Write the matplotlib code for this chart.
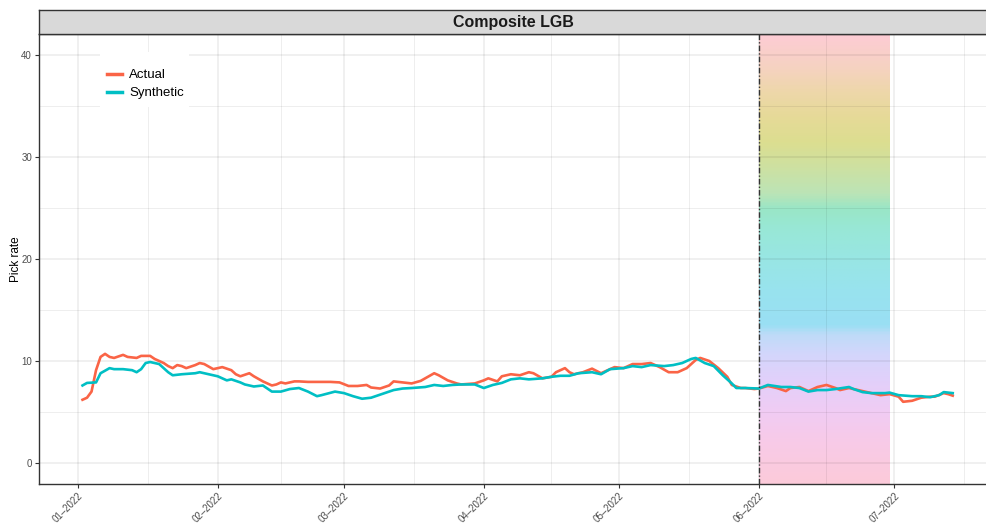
import numpy as np
import pandas as pd
import matplotlib
matplotlib.use("Agg")
import matplotlib.pyplot as plt
import matplotlib.dates as mdates
from matplotlib.colors import LinearSegmentedColormap
from matplotlib.patches import Rectangle
from matplotlib.ticker import FixedLocator

plt.rcParams['font.family'] = ['Liberation Sans', 'DejaVu Sans']

# --- data ---
actual_dates = [
    "2022-01-02", "2022-01-03", "2022-01-04", "2022-01-05", "2022-01-06", "2022-01-07",
    "2022-01-08", "2022-01-09", "2022-01-11", "2022-01-12", "2022-01-14", "2022-01-15",
    "2022-01-17", "2022-01-18", "2022-01-20", "2022-01-21", "2022-01-22", "2022-01-23",
    "2022-01-24", "2022-01-25", "2022-01-27", "2022-01-28", "2022-01-29", "2022-01-31",
    "2022-02-01", "2022-02-02", "2022-02-04", "2022-02-05", "2022-02-06", "2022-02-08",
    "2022-02-09", "2022-02-11", "2022-02-13", "2022-02-14", "2022-02-15", "2022-02-16",
    "2022-02-18", "2022-02-19", "2022-02-21", "2022-02-24", "2022-02-26", "2022-02-28",
    "2022-03-02", "2022-03-04", "2022-03-06", "2022-03-07", "2022-03-09", "2022-03-11",
    "2022-03-12", "2022-03-14", "2022-03-16", "2022-03-18", "2022-03-21", "2022-03-22",
    "2022-03-24", "2022-03-26", "2022-03-27", "2022-03-30", "2022-04-01", "2022-04-02",
    "2022-04-04", "2022-04-05", "2022-04-07", "2022-04-09", "2022-04-11", "2022-04-12",
    "2022-04-14", "2022-04-16", "2022-04-17", "2022-04-19", "2022-04-20", "2022-04-21",
    "2022-04-23", "2022-04-25", "2022-04-27", "2022-04-30", "2022-05-02", "2022-05-04",
    "2022-05-06", "2022-05-08", "2022-05-10", "2022-05-12", "2022-05-14", "2022-05-16",
    "2022-05-18", "2022-05-19", "2022-05-21", "2022-05-23", "2022-05-25", "2022-05-26",
    "2022-05-28", "2022-05-29", "2022-05-31", "2022-06-01", "2022-06-03", "2022-06-05",
    "2022-06-07", "2022-06-08", "2022-06-10", "2022-06-12", "2022-06-14", "2022-06-16",
    "2022-06-18", "2022-06-19", "2022-06-21", "2022-06-23", "2022-06-25", "2022-06-26",
    "2022-06-28", "2022-06-30", "2022-07-02", "2022-07-03", "2022-07-05", "2022-07-07",
    "2022-07-09", "2022-07-10", "2022-07-12", "2022-07-13", "2022-07-14",
]
actual_vals = [
    6.2, 6.4, 7.0, 9.1, 10.4, 10.7,
    10.4, 10.3, 10.6, 10.4, 10.3, 10.5,
    10.5, 10.2, 9.8, 9.5, 9.3, 9.6,
    9.5, 9.3, 9.6, 9.8, 9.7, 9.2,
    9.3, 9.4, 9.1, 8.7, 8.5, 8.8,
    8.5, 8.0, 7.6, 7.7, 7.9, 7.8,
    8.0, 8.0, 7.95, 7.95, 7.95, 7.9,
    7.55, 7.55, 7.65, 7.4, 7.3, 7.6,
    8.0, 7.9, 7.8, 8.05, 8.8, 8.6,
    8.1, 7.8, 7.7, 7.8, 8.1, 8.3,
    8.0, 8.5, 8.7, 8.6, 8.9, 8.8,
    8.3, 8.45, 8.9, 9.3, 8.9, 8.7,
    8.9, 9.25, 8.8, 9.4, 9.3, 9.7,
    9.7, 9.8, 9.4, 8.9, 8.9, 9.3,
    10.1, 10.3, 10.0, 9.3, 8.45, 7.65,
    7.35, 7.35, 7.25, 7.3, 7.55, 7.35,
    7.05, 7.35, 7.45, 7.05, 7.45, 7.65,
    7.35, 7.15, 7.35, 7.15, 6.95, 6.85,
    6.65, 6.75, 6.5, 6.0, 6.1, 6.4,
    6.5, 6.5, 6.85, 6.75, 6.6,
]

synthetic_dates = [
    "2022-01-02", "2022-01-03", "2022-01-05", "2022-01-06", "2022-01-08", "2022-01-09",
    "2022-01-11", "2022-01-13", "2022-01-14", "2022-01-15", "2022-01-16", "2022-01-17",
    "2022-01-19", "2022-01-21", "2022-01-22", "2022-01-24", "2022-01-27", "2022-01-28",
    "2022-01-30", "2022-02-01", "2022-02-03", "2022-02-04", "2022-02-06", "2022-02-07",
    "2022-02-09", "2022-02-11", "2022-02-13", "2022-02-15", "2022-02-17", "2022-02-19",
    "2022-02-21", "2022-02-23", "2022-02-24", "2022-02-27", "2022-03-01", "2022-03-03",
    "2022-03-05", "2022-03-07", "2022-03-10", "2022-03-12", "2022-03-14", "2022-03-16",
    "2022-03-19", "2022-03-21", "2022-03-23", "2022-03-25", "2022-03-27", "2022-03-30",
    "2022-04-01", "2022-04-03", "2022-04-05", "2022-04-07", "2022-04-09", "2022-04-11",
    "2022-04-14", "2022-04-16", "2022-04-18", "2022-04-20", "2022-04-22", "2022-04-25",
    "2022-04-27", "2022-04-29", "2022-05-02", "2022-05-04", "2022-05-06", "2022-05-08",
    "2022-05-11", "2022-05-13", "2022-05-15", "2022-05-17", "2022-05-18", "2022-05-20",
    "2022-05-22", "2022-05-24", "2022-05-26", "2022-05-27", "2022-05-29", "2022-06-01",
    "2022-06-03", "2022-06-06", "2022-06-08", "2022-06-10", "2022-06-12", "2022-06-14",
    "2022-06-16", "2022-06-18", "2022-06-21", "2022-06-22", "2022-06-24", "2022-06-26",
    "2022-06-29", "2022-06-30", "2022-07-02", "2022-07-05", "2022-07-07", "2022-07-09",
    "2022-07-11", "2022-07-12", "2022-07-14",
]
synthetic_vals = [
    7.6, 7.85, 7.9, 8.8, 9.3, 9.2,
    9.2, 9.1, 8.9, 9.2, 9.8, 9.9,
    9.7, 8.9, 8.6, 8.7, 8.8, 8.9,
    8.7, 8.5, 8.1, 8.2, 7.9, 7.7,
    7.5, 7.6, 7.0, 7.0, 7.25, 7.35,
    7.0, 6.55, 6.65, 7.0, 6.85, 6.55,
    6.3, 6.4, 6.85, 7.15, 7.3, 7.35,
    7.45, 7.65, 7.55, 7.65, 7.7, 7.7,
    7.35, 7.65, 7.85, 8.2, 8.3, 8.2,
    8.3, 8.45, 8.55, 8.55, 8.8, 8.9,
    8.7, 9.2, 9.3, 9.5, 9.4, 9.6,
    9.5, 9.6, 9.8, 10.2, 10.3, 9.8,
    9.5, 8.6, 7.8, 7.35, 7.35, 7.3,
    7.65, 7.45, 7.45, 7.35, 7.0, 7.15,
    7.15, 7.25, 7.45, 7.25, 6.95, 6.85,
    6.85, 6.9, 6.65, 6.55, 6.55, 6.45,
    6.65, 6.95, 6.85,
]

month_ticks = ["2022-01-01", "2022-02-01", "2022-03-01", "2022-04-01",
               "2022-05-01", "2022-06-01", "2022-07-01"]
mid_month_ticks = ["2022-01-16 12:00", "2022-02-15 00:00", "2022-03-16 12:00", "2022-04-16 00:00",
                   "2022-05-16 12:00", "2022-06-16 00:00", "2022-07-16 12:00"]
y_major = [0, 10, 20, 30, 40]
y_minor = [5, 15, 25, 35]

shade_start = "2022-06-01"
shade_end = "2022-06-30"

# vertical colour ramp of the shaded window (value -> colour)
grad_levels = [-2, 2, 5, 8, 10.5, 12.5, 13.5, 17, 20, 23, 25, 26.5, 29, 31.5, 34, 36.5, 39, 42]
grad_colors = ["#FCCBDA", "#F8CAE8", "#F0CCF4", "#E2D0FA", "#D4D6FC", "#BFDBF8", "#9ADFF4",
               "#98E3EE", "#98E6E4", "#98E8D6", "#9AE6C6", "#BCE4B6", "#CDE1A2", "#DCDE90",
               "#E6DA98", "#EED7AA", "#F6D2C2", "#FDCCD4"]

RED = "#FA6446"
CYAN = "#00BFC4"
YLIM = (-2.06, 42.06)
XLIM = (pd.Timestamp("2022-01-01") - pd.Timedelta(days=8.65),
        pd.Timestamp("2022-01-01") + pd.Timedelta(days=201.6))

fig = plt.figure(figsize=(9.87, 5.23), dpi=100)
ax = fig.add_axes([39 / 987, 39 / 523, 948 / 987, 450 / 523])

# --- gradient window ---
lo, hi = grad_levels[0], grad_levels[-1]
pos = [(v - lo) / (hi - lo) for v in grad_levels]
cmap = LinearSegmentedColormap.from_list("shade", list(zip(pos, grad_colors)))
yy = np.linspace(YLIM[0], YLIM[1], 400)
img = cmap(np.clip((yy - lo) / (hi - lo), 0, 1))[:, None, :]
x0 = mdates.date2num(pd.Timestamp(shade_start))
x1 = mdates.date2num(pd.Timestamp(shade_end))
ax.imshow(img, extent=[x0, x1, YLIM[0], YLIM[1]], aspect="auto", origin="lower",
          zorder=0.3, interpolation="bilinear")

# --- lines ---
ax.plot(pd.to_datetime(actual_dates), actual_vals, color=RED, lw=1.9, label="Actual",
        zorder=3, solid_joinstyle="round")
ax.plot(pd.to_datetime(synthetic_dates), synthetic_vals, color=CYAN, lw=1.9, label="Synthetic",
        zorder=3.1, solid_joinstyle="round")
ax.axvline(pd.Timestamp(shade_start), color="#333333", lw=1.0, dashes=(4, 1.5, 1, 1.5), zorder=4)

# --- axes styling ---
ax.set_xlim(XLIM)
ax.set_ylim(YLIM)
ax.set_facecolor("white")
ax.xaxis.set_major_locator(FixedLocator(mdates.date2num(pd.to_datetime(month_ticks))))
ax.xaxis.set_minor_locator(FixedLocator(mdates.date2num(pd.to_datetime(mid_month_ticks))))
ax.xaxis.set_major_formatter(mdates.DateFormatter("%m\u2013%Y"))
ax.set_yticks(y_major)
ax.yaxis.set_minor_locator(FixedLocator(y_minor))

ax.set_axisbelow(True)
ax.grid(which="major", color="black", alpha=0.08, lw=1.1, zorder=0.5)
ax.grid(which="minor", color="black", alpha=0.08, lw=0.6, zorder=0.5)
for s in ax.spines.values():
    s.set_color("#333333")
    s.set_linewidth(1.0)

ax.tick_params(which="major", length=3, width=0.8, color="#333333",
               labelsize=7, labelcolor="#4D4D4D", pad=2)
ax.tick_params(which="minor", length=0)
for lab in ax.get_xticklabels():
    lab.set_rotation(45)
    lab.set_ha("right")
    lab.set_rotation_mode("anchor")

ax.set_ylabel("Pick rate", fontsize=8.5, labelpad=-0.5)

# legend: white key box inside the panel, then the entries on top of it
ax.add_patch(Rectangle((61 / 948, 377 / 450), 89 / 948, 55 / 450, transform=ax.transAxes,
                       facecolor="white", edgecolor="none", zorder=2))
leg = ax.legend(loc="upper left", bbox_to_anchor=(68 / 948, 415 / 450), fontsize=9.5,
                frameon=False, handlelength=1.15, handletextpad=0.55, borderpad=0,
                borderaxespad=0, labelspacing=0.45)
leg.set_zorder(5)
for ln in leg.get_lines():
    ln.set_linewidth(2.5)

# --- facet strip ---
strip = fig.add_axes([39 / 987, 489 / 523, 948 / 987, 24 / 523])
strip.set_facecolor("#D9D9D9")
strip.set_xticks([])
strip.set_yticks([])
for s in strip.spines.values():
    s.set_color("#333333")
    s.set_linewidth(1.0)
strip.text(0.5, 0.5, "Composite LGB", ha="center", va="center", fontsize=11.5,
           fontweight="bold", color="#1A1A1A", transform=strip.transAxes)

fig.savefig("out.png", dpi=100)
